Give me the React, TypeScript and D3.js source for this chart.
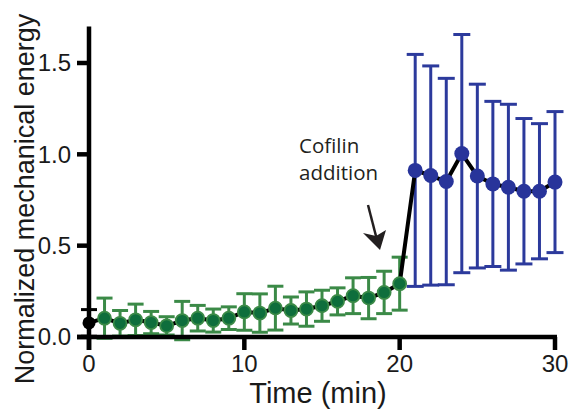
import React from "react";
import * as d3 from "d3";

const baselineTime = [0];
const baselineMean = [0.077];
const baselineSd = [0.073];

const greenTime = [1, 2, 3, 4, 5, 6, 7, 8, 9, 10, 11, 12, 13, 14, 15, 16, 17, 18, 19, 20];
const greenMean = [0.103, 0.075, 0.094, 0.079, 0.061, 0.09, 0.103, 0.09, 0.103, 0.137, 0.131, 0.158, 0.145, 0.153, 0.171, 0.195, 0.226, 0.213, 0.244, 0.292];
const greenSd = [0.11, 0.07, 0.086, 0.061, 0.05, 0.105, 0.07, 0.063, 0.062, 0.1, 0.105, 0.12, 0.074, 0.094, 0.085, 0.074, 0.098, 0.113, 0.116, 0.145];

const blueTime = [21, 22, 23, 24, 25, 26, 27, 28, 29, 30];
const blueMean = [0.912, 0.884, 0.851, 1.004, 0.881, 0.838, 0.82, 0.798, 0.798, 0.848];
const blueSd = [0.635, 0.6, 0.565, 0.652, 0.503, 0.452, 0.454, 0.398, 0.37, 0.386];

const xTicks = [0, 10, 20, 30];
const yTicks = [0, 0.5, 1.0, 1.5];

const W = 570;
const H = 412;

export default function App() {
  const x = d3.scaleLinear().domain([0, 30]).range([89, 555]);
  const y = d3.scaleLinear().domain([0, 1.5]).range([337, 63]);

  const allPts = [
    ...baselineTime.map((t, i) => [t, baselineMean[i]]),
    ...greenTime.map((t, i) => [t, greenMean[i]]),
    ...blueTime.map((t, i) => [t, blueMean[i]]),
  ] as [number, number][];
  const line = d3.line<[number, number]>().x((d) => x(d[0])).y((d) => y(d[1]));

  const errBars = (times: number[], means: number[], sds: number[], color: string, cap: number, key: string) =>
    times.map((t, i) => {
      const cx = x(t);
      const top = y(means[i] + sds[i]);
      const bot = y(means[i] - sds[i]);
      return (
        <g key={key + i} stroke={color} strokeWidth={3} fill="none">
          <line x1={cx} x2={cx} y1={top} y2={bot} />
          <line x1={cx - cap / 2} x2={cx + cap / 2} y1={top} y2={top} />
          <line x1={cx - cap / 2} x2={cx + cap / 2} y1={bot} y2={bot} />
        </g>
      );
    });

  const axisColor = "#000";
  const yTop = y(1.7);
  const font = "'Liberation Sans', Arial, sans-serif";

  return (
    <svg width={W} height={H} style={{ position: "absolute", left: 0, top: 0, background: "#fff" }}>
      <rect x={0} y={0} width={W} height={H} fill="#fff" />
      {errBars(baselineTime, baselineMean, baselineSd, "#000", 16, "k")}
      {errBars(greenTime, greenMean, greenSd, "#3b8a47", 16, "g")}
      {errBars(blueTime, blueMean, blueSd, "#2c3a9c", 17, "b")}
      <path d={line(allPts) || ""} fill="none" stroke="#000" strokeWidth={4} strokeLinejoin="round" />
      {baselineTime.map((t, i) => (
        <circle key={"km" + i} cx={x(t)} cy={y(baselineMean[i])} r={6.5} fill="#000" />
      ))}
      {greenTime.map((t, i) => (
        <circle key={"gm" + i} cx={x(t)} cy={y(greenMean[i])} r={6.5} fill="#0e6e3c" stroke="#3b8a47" strokeWidth={1.8} />
      ))}
      {blueTime.map((t, i) => (
        <circle key={"bm" + i} cx={x(t)} cy={y(blueMean[i])} r={7.5} fill="#28349a" />
      ))}
      <line x1={x(0)} x2={x(0)} y1={yTop} y2={350} stroke={axisColor} strokeWidth={4.5} />
      <line x1={77} x2={x(30) + 2} y1={y(0)} y2={y(0)} stroke={axisColor} strokeWidth={4.5} />
      {yTicks.map((v) => (
        <g key={"yt" + v}>
          <line x1={77} x2={x(0)} y1={y(v)} y2={y(v)} stroke={axisColor} strokeWidth={4.5} />
          <text x={71} y={y(v)} dy="0.35em" textAnchor="end" fontFamily={font} fontSize={24} fill="#1a1a1a">
            {v.toFixed(1)}
          </text>
        </g>
      ))}
      {xTicks.map((v) => (
        <g key={"xt" + v}>
          <line x1={x(v)} x2={x(v)} y1={y(0)} y2={350} stroke={axisColor} strokeWidth={4.5} />
          <text x={x(v)} y={372} textAnchor="middle" fontFamily={font} fontSize={24} fill="#1a1a1a">
            {v}
          </text>
        </g>
      ))}
      <text x={318} y={403} textAnchor="middle" fontFamily={font} fontSize={29} fill="#1a1a1a">
        Time (min)
      </text>
      <text transform="translate(34,199) rotate(-90)" textAnchor="middle" fontFamily={font} fontSize={27} fill="#1a1a1a">
        Normalized mechanical energy
      </text>
      <text x={299} y={153} fontFamily="'Open Sans', sans-serif" fontSize={20.5} fill="#231f20">
        Cofilin
      </text>
      <text x={299} y={180} fontFamily="'Open Sans', sans-serif" fontSize={20.5} fill="#231f20">
        addition
      </text>
      <line x1={368} y1={205} x2={377} y2={240} stroke="#231f20" strokeWidth={2.5} />
      <polygon points="380,250 363,233 376,236 386,230" fill="#231f20" />
    </svg>
  );
}
